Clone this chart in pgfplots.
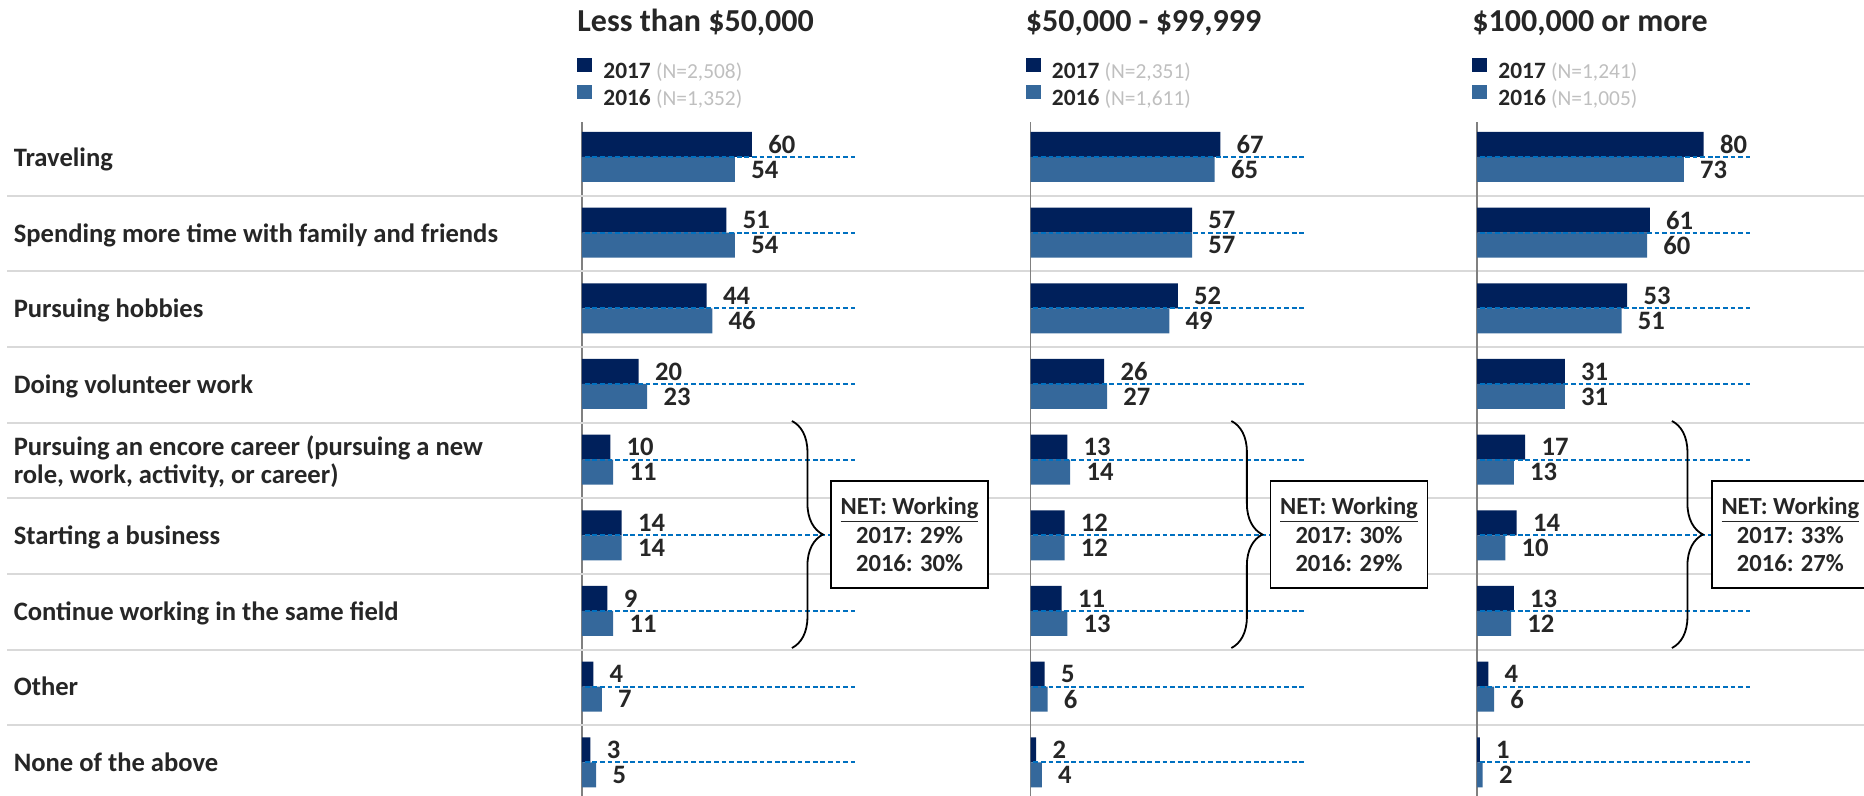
\documentclass[border=0pt]{standalone}
\usepackage{fontspec}
\setmainfont{Carlito}
\usepackage{pgfplots}
\pgfplotsset{compat=1.18}
\usepackage{pgfplotstable}
\usetikzlibrary{decorations.pathreplacing}

\definecolor{c17}{HTML}{00205B}
\definecolor{c16}{HTML}{35689B}
\definecolor{dashblue}{HTML}{0070C0}
\definecolor{txt}{HTML}{262626}
\definecolor{sepgray}{HTML}{D9D9D9}
\definecolor{axgray}{HTML}{808080}
\definecolor{ngray}{HTML}{BFBFBF}

% row 0 = Traveling ... row 8 = None of the above
\pgfplotstableread{
row v17 v16
0 60 54
1 51 54
2 44 46
3 20 23
4 10 11
5 14 14
6 9 11
7 4 7
8 3 5
}\tlow
\pgfplotstableread{
row v17 v16
0 67 65
1 57 57
2 52 49
3 26 27
4 13 14
5 12 12
6 11 13
7 5 6
8 2 4
}\tmid
\pgfplotstableread{
row v17 v16
0 80 73
1 61 60
2 53 51
3 31 31
4 17 13
5 14 10
6 13 12
7 4 6
8 1 2
}\thigh

\pgfplotsset{
  panel/.style={
    xbar, scale only axis, anchor=north west,
    width=141.667pt, height=337pt,
    xmin=0, xmax=100, ymin=-0.4625, ymax=8.445, y dir=reverse,
    enlargelimits=false, clip=false,
    axis x line=none, axis y line*=left,
    y axis line style={draw=axgray, line width=0.7pt},
    xtick=\empty, ytick=\empty, major tick length=0pt,
    bar width=12.5pt,
    /pgf/number format/assume math mode=true,
    nodes near coords,
    every node near coord/.append style={font=\fontsize{13.3}{15}\selectfont\bfseries, text=txt, inner sep=0pt, anchor=west, xshift=8pt},
    every axis title shift=0pt,
    title style={at={(axis description cs:0,1)}, anchor=base west, xshift=-2.5pt, yshift=45.5pt, inner sep=0pt, font=\fontsize{16}{19}\selectfont\bfseries, text=txt},
    legend image code/.code={\fill[##1] (0pt,0pt) rectangle (7.5pt,7pt);},
    legend style={draw=none, fill=none, at={(axis description cs:0,1)}, anchor=north west, xshift=-2.5pt, yshift=32pt, inner sep=0pt, row sep=1.3pt, column sep=5.5pt,
      nodes={inner sep=0pt, text height=8pt, text depth=2pt, font=\fontsize{11.7}{13}\selectfont\bfseries, text=txt}},
    legend cell align=left,
  },
}

\newcommand{\dashrows}{%
  \pgfplotsinvokeforeach{0,...,8}{\draw[dashblue, line width=1pt, dash pattern=on 2.4pt off 1.4pt] (axis cs:1,##1) -- (axis cs:96.5,##1);}%
}
\newcommand{\seprows}{%
  \pgfplotsinvokeforeach{0.51,1.51,2.51,3.51,4.51,5.51,6.51,7.51}{\draw[sepgray, line width=1pt] (axis cs:-202.9,##1) -- (axis cs:452.5,##1);}%
}
\newcommand{\nlab}[1]{{\color{ngray}\mdseries\fontsize{10.7}{13}\selectfont (N=#1)}}
\newcommand{\netbox}[4]{%
  \draw[decorate, decoration={brace, amplitude=15.5pt}, line width=0.9pt, black] (axis cs:#1,3.489) -- (axis cs:#1,6.489);
  \node[draw=black, line width=0.9pt, minimum width=78.5pt, minimum height=53.5pt, align=center, font=\fontsize{12.3}{14.25}\selectfont\bfseries, text=txt, inner sep=0pt, fill=white] at (axis cs:#2,4.99) {\underline{NET: Working}\\2017: #3\%\\2016: #4\%};
}

\begin{document}
\begin{tikzpicture}
\useasboundingbox (0,0) rectangle (932pt,-398pt);

\begin{axis}[panel, at={(291pt,-61pt)},
  title={Less than \$50,000},
  ytick={0,...,8},
  yticklabels={Traveling, Spending more time with family and friends, Pursuing hobbies, Doing volunteer work,
    {Pursuing an encore career (pursuing a new\\role, work, activity, or career)},
    Starting a business, Continue working in the same field, Other, None of the above},
  yticklabel style={anchor=west, xshift=-284.3pt, inner sep=0pt, text depth=0pt, align=left, font=\fontsize{13.3}{13.8}\selectfont\bfseries, text=txt},
]
\seprows
\addplot[fill=c17, draw=none, bar shift=6.25pt] table[x=v17, y=row] {\tlow};
\addlegendentry{2017 \nlab{2,508}}
\addplot[fill=c16, draw=none, bar shift=-6.25pt] table[x=v16, y=row] {\tlow};
\addlegendentry{2016 \nlab{1,352}}
\dashrows
\netbox{74.1}{115.6}{29}{30}
\end{axis}

\begin{axis}[panel, at={(515.25pt,-61pt)},
  title={\$50,000 - \$99,999},
]
\addplot[fill=c17, draw=none, bar shift=6.25pt] table[x=v17, y=row] {\tmid};
\addlegendentry{2017 \nlab{2,351}}
\addplot[fill=c16, draw=none, bar shift=-6.25pt] table[x=v16, y=row] {\tmid};
\addlegendentry{2016 \nlab{1,611}}
\dashrows
\netbox{70.9}{112.4}{30}{29}
\end{axis}

\begin{axis}[panel, at={(738.5pt,-61pt)},
  title={\$100,000 or more},
]
\addplot[fill=c17, draw=none, bar shift=6.25pt] table[x=v17, y=row] {\thigh};
\addlegendentry{2017 \nlab{1,241}}
\addplot[fill=c16, draw=none, bar shift=-6.25pt] table[x=v16, y=row] {\thigh};
\addlegendentry{2016 \nlab{1,005}}
\dashrows
\netbox{68.8}{110.6}{33}{27}
\end{axis}
\end{tikzpicture}
\end{document}
